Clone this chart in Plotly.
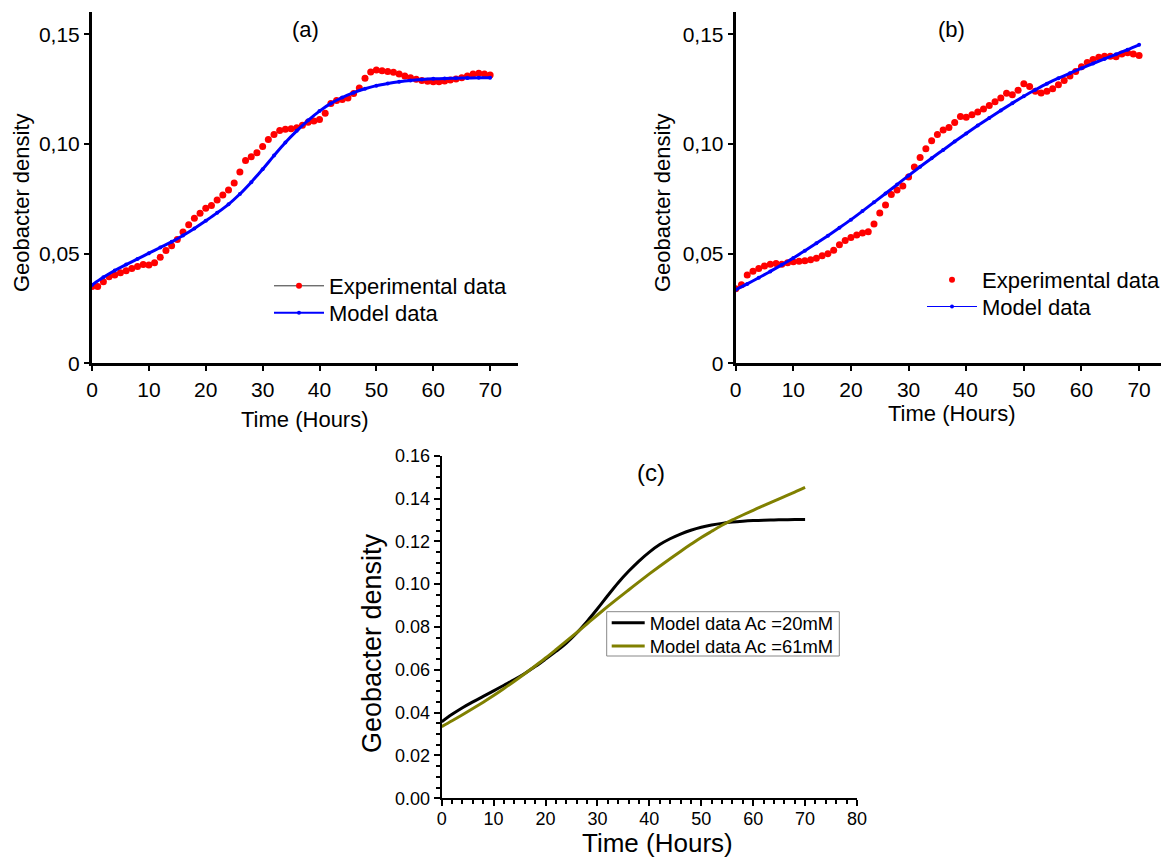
import plotly.graph_objects as go

# ---------------- data ----------------
hours_exp = list(range(0, 71))
exp_a = [0.0350, 0.0350, 0.0372, 0.0395, 0.0403, 0.0413, 0.0422, 0.0432, 0.0441, 0.0451,
         0.0448, 0.0459, 0.0483, 0.0514, 0.0536, 0.0565, 0.0599, 0.0632, 0.0661, 0.0684,
         0.0707, 0.0719, 0.0745, 0.0767, 0.0790, 0.0822, 0.0872, 0.0925, 0.0942, 0.0960,
         0.0988, 0.1021, 0.1043, 0.1061, 0.1067, 0.1070, 0.1074, 0.1085, 0.1099, 0.1105,
         0.1112, 0.1140, 0.1185, 0.1198, 0.1203, 0.1210, 0.1230, 0.1255, 0.1300, 0.1328,
         0.1337, 0.1334, 0.1331, 0.1327, 0.1319, 0.1310, 0.1302, 0.1295, 0.1289, 0.1286,
         0.1284, 0.1284, 0.1287, 0.1292, 0.1296, 0.1302, 0.1310, 0.1319, 0.1322, 0.1319,
         0.1315]
exp_b = [0.0340, 0.0358, 0.0403, 0.0420, 0.0432, 0.0444, 0.0452, 0.0455, 0.0452, 0.0458,
         0.0463, 0.0465, 0.0468, 0.0472, 0.0479, 0.0490, 0.0500, 0.0516, 0.0540, 0.0560,
         0.0574, 0.0585, 0.0594, 0.0600, 0.0635, 0.0685, 0.0722, 0.0770, 0.0790, 0.0808,
         0.0850, 0.0895, 0.0938, 0.0978, 0.1015, 0.1043, 0.1064, 0.1075, 0.1098, 0.1125,
         0.1122, 0.1133, 0.1146, 0.1160, 0.1175, 0.1193, 0.1210, 0.1231, 0.1225, 0.1245,
         0.1275, 0.1262, 0.1240, 0.1232, 0.1240, 0.1252, 0.1270, 0.1290, 0.1310, 0.1330,
         0.1352, 0.1372, 0.1385, 0.1395, 0.1400, 0.1400, 0.1398, 0.1410, 0.1416, 0.1410,
         0.1404]

hours_model = list(range(0, 71, 2))
model_20mM = [0.0357, 0.0392, 0.0423, 0.0450, 0.0476, 0.0502, 0.0528, 0.0554, 0.0583, 0.0615,
              0.0650, 0.0686, 0.0725, 0.0772, 0.0826, 0.0885, 0.0947, 0.1007, 0.1060, 0.1108,
              0.1150, 0.1185, 0.1212, 0.1234, 0.1252, 0.1266, 0.1276, 0.1284, 0.1290, 0.1294,
              0.1297, 0.1299, 0.1300, 0.1301, 0.1302, 0.1302]
model_61mM = [0.0335, 0.0362, 0.0390, 0.0419, 0.0449, 0.0480, 0.0513, 0.0547, 0.0582, 0.0618,
              0.0655, 0.0694, 0.0734, 0.0774, 0.0815, 0.0856, 0.0896, 0.0935, 0.0973, 0.1011,
              0.1048, 0.1084, 0.1119, 0.1153, 0.1186, 0.1218, 0.1247, 0.1275, 0.1300, 0.1323,
              0.1345, 0.1367, 0.1388, 0.1409, 0.1430, 0.1452]

ab_yticks = [0, 0.05, 0.10, 0.15]
ab_yticktext = ["0", "0,05", "0,10", "0,15"]
ab_xticks = [0, 10, 20, 30, 40, 50, 60, 70]

# ---------------- figure ----------------
W, H = 1161, 864
FONT = "Liberation Sans, Arial, sans-serif"
RED = "#ff0000"
BLUE = "#0000ff"
OLIVE = "#808000"

def px_x(p):
    return p / W

def px_y(p):
    return 1 - p / H

fig = go.Figure()

# ----- panel (a) -----
fig.add_trace(go.Scatter(x=hours_exp, y=exp_a, mode="markers",
                         marker=dict(color=RED, size=7), showlegend=False,
                         xaxis="x", yaxis="y"))
fig.add_trace(go.Scatter(x=hours_model, y=model_20mM, mode="lines+markers",
                         line=dict(color=BLUE, width=3, shape="spline"),
                         marker=dict(color=BLUE, size=4), showlegend=False,
                         xaxis="x", yaxis="y"))
fig.add_trace(go.Scatter(x=[None], y=[None], mode="lines+markers", name="Experimental data",
                         line=dict(color="#333333", width=1), marker=dict(color=RED, size=6),
                         xaxis="x", yaxis="y", legend="legend"))
fig.add_trace(go.Scatter(x=[None], y=[None], mode="lines+markers", name="Model data",
                         line=dict(color=BLUE, width=2), marker=dict(color=BLUE, size=4),
                         xaxis="x", yaxis="y", legend="legend4"))

# ----- panel (b) -----
fig.add_trace(go.Scatter(x=hours_exp, y=exp_b, mode="markers",
                         marker=dict(color=RED, size=7), showlegend=False,
                         xaxis="x2", yaxis="y2"))
fig.add_trace(go.Scatter(x=hours_model, y=model_61mM, mode="lines+markers",
                         line=dict(color=BLUE, width=3, shape="spline"),
                         marker=dict(color=BLUE, size=4), showlegend=False,
                         xaxis="x2", yaxis="y2"))
fig.add_trace(go.Scatter(x=[None], y=[None], mode="markers", name="Experimental data",
                         marker=dict(color=RED, size=6),
                         xaxis="x2", yaxis="y2", legend="legend2"))
fig.add_trace(go.Scatter(x=[None], y=[None], mode="lines+markers", name="Model data",
                         line=dict(color=BLUE, width=1), marker=dict(color=BLUE, size=4),
                         xaxis="x2", yaxis="y2", legend="legend5"))

# ----- panel (c) -----
fig.add_trace(go.Scatter(x=hours_model, y=model_20mM, mode="lines", name="Model data Ac =20mM",
                         line=dict(color="black", width=3, shape="spline"),
                         xaxis="x3", yaxis="y3", legend="legend3"))
fig.add_trace(go.Scatter(x=hours_model, y=model_61mM, mode="lines", name="Model data Ac =61mM",
                         line=dict(color=OLIVE, width=3, shape="spline"),
                         xaxis="x3", yaxis="y3", legend="legend6"))

ab_axis_common = dict(showgrid=False, zeroline=False, showline=True, linecolor="black",
                      linewidth=3, ticks="outside", ticklen=5, tickwidth=2, tickcolor="black",
                      automargin=False,
                      tickfont=dict(family=FONT, size=21, color="black"))

c_axis_common = dict(showgrid=False, zeroline=False, showline=True, linecolor="black",
                     linewidth=2, ticks="outside", ticklen=6, tickwidth=2, tickcolor="black",
                     automargin=False,
                     tickfont=dict(family=FONT, size=18, color="black"),
                     minor=dict(ticks="outside", ticklen=4, tickwidth=2, tickcolor="black"))

def leg(xp, yp, size, itemwidth):
    return dict(x=px_x(xp), y=px_y(yp), xanchor="left", yanchor="middle",
                bgcolor="rgba(0,0,0,0)", borderwidth=0, itemwidth=itemwidth,
                font=dict(family=FONT, size=size, color="black"), tracegroupgap=0)

fig.update_layout(
    width=W, height=H,
    margin=dict(l=0, r=0, t=0, b=0, autoexpand=False),
    paper_bgcolor="white", plot_bgcolor="white",
    font=dict(family=FONT, color="black"),
    xaxis=dict(domain=[px_x(92), px_x(518)], range=[0, 74.9], anchor="y",
               tickvals=ab_xticks, **ab_axis_common),
    yaxis=dict(domain=[px_y(363.3), px_y(12.4)], range=[0, 0.16], anchor="x",
               tickvals=ab_yticks, ticktext=ab_yticktext, **ab_axis_common),
    xaxis2=dict(domain=[px_x(735.7), 1.0], range=[0, 73.8], anchor="y2",
                tickvals=ab_xticks, **ab_axis_common),
    yaxis2=dict(domain=[px_y(363.3), px_y(12.4)], range=[0, 0.16], anchor="x2",
                tickvals=ab_yticks, ticktext=ab_yticktext, **ab_axis_common),
    xaxis3=dict(domain=[px_x(441.7), px_x(857)], range=[0, 80], anchor="y3",
                dtick=10, tick0=0, ticklabelstandoff=-3, **c_axis_common),
    yaxis3=dict(domain=[px_y(798.3), px_y(455.7)], range=[0, 0.16], anchor="x3",
                dtick=0.02, tick0=0, tickformat=".2f", **c_axis_common),
    legend=leg(269, 286, 22, 50),
    legend4=leg(269, 313, 22, 50),
    legend2=leg(922, 280, 22, 50),
    legend5=leg(922, 306.7, 22, 50),
    legend3=leg(606.7, 622.7, 18.4, 33),
    legend6=leg(606.7, 646, 18.4, 33),
    showlegend=True,
    shapes=[dict(type="rect", xref="paper", yref="paper",
                 x0=px_x(606.7), x1=px_x(839.3), y0=px_y(656), y1=px_y(611.7),
                 line=dict(color="#888888", width=1), fillcolor="rgba(0,0,0,0)",
                 layer="above")],
)

annotations = [
    dict(text="(a)", x=px_x(305), y=px_y(30), size=22),
    dict(text="(b)", x=px_x(951), y=px_y(30), size=22),
    dict(text="(c)", x=px_x(651), y=px_y(472), size=24),
    dict(text="Time (Hours)", x=px_x(305), y=px_y(419), size=22),
    dict(text="Time (Hours)", x=px_x(952), y=px_y(413), size=22),
    dict(text="Time (Hours)", x=px_x(657), y=px_y(843), size=26),
    dict(text="Geobacter density", x=px_x(21), y=px_y(203), size=22, angle=-90),
    dict(text="Geobacter density", x=px_x(662), y=px_y(203), size=22, angle=-90),
    dict(text="Geobacter density", x=px_x(372), y=px_y(643), size=27, angle=-90),
]
for a in annotations:
    fig.add_annotation(text=a["text"], x=a["x"], y=a["y"], xref="paper", yref="paper",
                       xanchor="center", yanchor="middle", showarrow=False,
                       textangle=a.get("angle", 0),
                       font=dict(family=FONT, size=a["size"], color="black"))

fig.write_html("out.html")
